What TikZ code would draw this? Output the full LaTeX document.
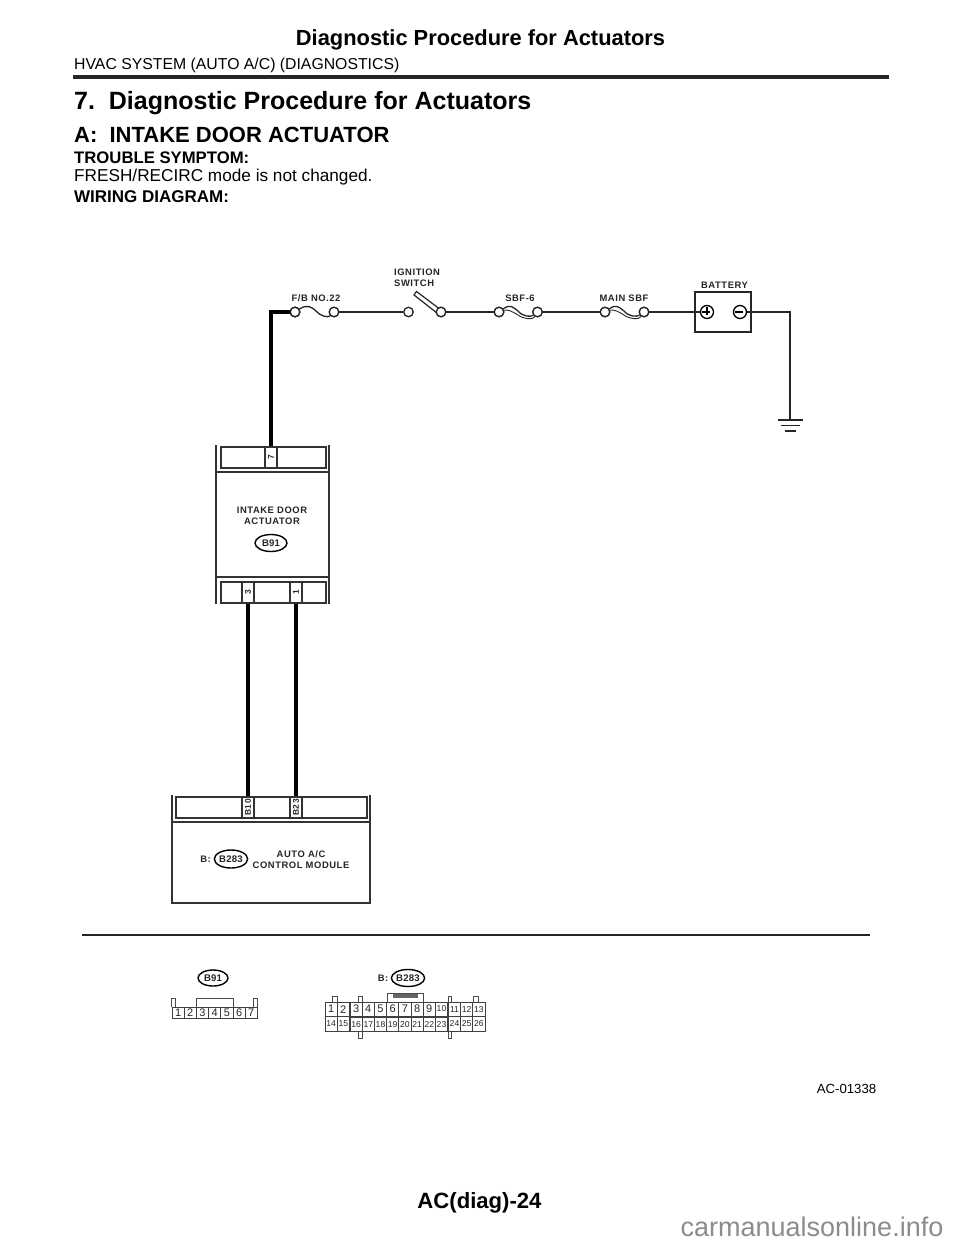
\documentclass[tikz,border=0pt]{standalone}
\usepackage{fontspec}
\setmainfont{Liberation Sans}
\newfontfamily\lab[LetterSpace=6]{Liberation Sans}
\newfontfamily\labtight[LetterSpace=2]{Liberation Sans}
\newcommand{\fs}[1]{\fontsize{#1}{#1}\selectfont}
\tikzset{
 txt/.style={inner sep=0pt,anchor=west,text=black},
 ctxt/.style={inner sep=0pt,anchor=center,text=black},
 lbl/.style={inner sep=0pt,anchor=center,font=\lab\bfseries\fs{9.4},align=center,text=black!85},
 pinlbl/.style={inner sep=0pt,anchor=center,font=\lab\bfseries\fs{8.4},rotate=90,text=black!85},
 wire/.style={line width=1.5pt,black!85},
 fat/.style={line width=4pt,black},
 term/.style={circle,draw=black!85,line width=1.3pt,fill=white,minimum size=9.5pt,inner sep=0pt},
 bline/.style={line width=1.4pt,black!80},
 oval/.style={ellipse,draw=black,line width=1.4pt,fill=white,inner sep=0pt,font=\labtight\bfseries\fs{9.6},text=black!85},
 cell/.style={draw=black!75,line width=0.7pt,inner sep=0pt,anchor=center,font=\fs{11},text=black!85},
 tab/.style={draw=black!70,line width=0.7pt},
 fuseline/.style={line width=1.3pt,black!85},
}
\usetikzlibrary{shapes.geometric}
\begin{document}
\begin{tikzpicture}[x=1pt,y=-1pt]
\useasboundingbox[fill=white] (0,0) rectangle (960,1242);
% Header
\node[ctxt,font=\bfseries\fs{21.85}] (h1) at (480.5,39.5) {Diagnostic Procedure for Actuators};
\node[txt,font=\fs{15.8}] (h2) at (74,65.5) {HVAC SYSTEM (AUTO A/C) (DIAGNOSTICS)};
\coordinate (ra) at (73,77); \coordinate (rb) at (889,77);
\draw[line width=3.6pt,black!85] (ra) -- (rb);
\node[txt,font=\bfseries\fs{25}] (h3) at (74,103) {7.\ \ Diagnostic Procedure for Actuators};
\node[txt,font=\bfseries\fs{22}] (h4) at (74,135) {A:\ \ INTAKE DOOR ACTUATOR};
\node[txt,font=\bfseries\fs{16.7}] (h5) at (74,157.5) {TROUBLE SYMPTOM:};
\node[txt,font=\fs{17.2}] (h6) at (74,177.5) {FRESH/RECIRC mode is not changed.};
\node[txt,font=\bfseries\fs{17}] (h7) at (74,197) {WIRING DIAGRAM:};

% Top circuit
\coordinate (cor) at (271,312);
\node[term] (f1a) at (295,312) {};
\node[term] (f1b) at (334,312) {};
\node[term] (swa) at (408.5,312) {};
\node[term] (swb) at (441,312) {};
\node[term] (f2a) at (499,312) {};
\node[term] (f2b) at (537.5,312) {};
\node[term] (f3a) at (605,312) {};
\node[term] (f3b) at (644,312) {};
\node[draw=black!85,line width=1.5pt,minimum width=56pt,minimum height=40pt,inner sep=0pt] (bat) at (723,312) {};
\node[circle,draw=black,line width=1.3pt,fill=white,minimum size=13pt,inner sep=0pt] (bp) at (707,312) {};
\node[circle,draw=black,line width=1.3pt,fill=white,minimum size=13pt,inner sep=0pt] (bm) at (740,312) {};
\draw[line width=1.3pt,black] (bp.west)++(2.5,0) -- ++(8,0);
\draw[line width=1.3pt,black] (bp.north)++(0,2.5) -- ++(0,8);
\draw[line width=1.3pt,black] (bm.west)++(2.5,0) -- ++(8,0);
% wires
\draw[wire] (f1b) -- (swa);
\draw[wire] (swb) -- (f2a);
\draw[wire] (f2b) -- (f3a);
\draw[wire] (f3b) -- (bp);
\coordinate (gtop) at (790,420);
\draw[wire] (bm) -| (gtop);
\draw[wire] (778,420) -- (803,420);
\draw[wire] (781,425.5) -- (800,425.5);
\draw[wire] (785,431) -- (796,431);
% fuses
\draw[fuseline] (f1a) .. controls (307,304) and (312,307) .. (316,311) .. controls (320,316) and (328,318) .. (f1b);
\draw[fuseline] (f2a) .. controls (510,304) and (513,307) .. (518,311) .. controls (523,317) and (531,317) .. (f2b);
\draw[line width=0.9pt,black!85] (f2a) .. controls (508,309) and (513,312) .. (518,315) .. controls (523,319) and (533,320) .. (f2b);
\draw[fuseline] (f3a) .. controls (616,304) and (619,307) .. (624,311) .. controls (629,317) and (637,317) .. (f3b);
\draw[line width=0.9pt,black!85] (f3a) .. controls (614,309) and (619,312) .. (624,315) .. controls (629,319) and (639,320) .. (f3b);
\node[term] at (f1a) {};\node[term] at (f1b) {};
\node[term] at (f2a) {};\node[term] at (f2b) {};
\node[term] at (f3a) {};\node[term] at (f3b) {};
% switch blade
\draw[line width=1.2pt,black!85,fill=white] (441,310) -- (416.5,291.5) -- (414,295) -- (437,313) -- cycle;
\node[term] at (swb) {};
% labels
\node[lbl] (l1) at (316,298) {F/B NO.22};
\node[lbl,anchor=west] (l2a) at (394,272) {IGNITION};
\node[lbl,anchor=west] (l2b) at (394,283) {SWITCH};
\node[lbl] (l3) at (520,298) {SBF-6};
\node[lbl] (l4) at (624,298.5) {MAIN SBF};
\node[lbl] (l5) at (724.5,285) {BATTERY};

% Actuator
\coordinate (al1) at (216,445); \coordinate (al2) at (216,604);
\coordinate (ar1) at (329,445); \coordinate (ar2) at (329,604);
\draw[bline] (al1) -- (al2);
\draw[bline] (ar1) -- (ar2);
\draw[bline] (216,472) -- (329,472);
\draw[bline] (216,577) -- (329,577);
\draw[bline] (221,447) rectangle (326,468);
\draw[bline] (221,582) rectangle (326,603);
\node[draw=black!80,line width=1.2pt,minimum width=12pt,minimum height=21pt,inner sep=0pt] (p7) at (271,457.5) {};
\node[draw=black!80,line width=1.2pt,minimum width=12pt,minimum height=21pt,inner sep=0pt] (p3) at (248,592.5) {};
\node[draw=black!80,line width=1.2pt,minimum width=12pt,minimum height=21pt,inner sep=0pt] (p1) at (296,592.5) {};
\node[pinlbl] at (p7) {7};
\node[pinlbl] at (p3) {3};
\node[pinlbl] at (p1) {1};
\node[lbl] (a1) at (272,510.5) {INTAKE DOOR};
\node[lbl] (a2) at (272,521.5) {ACTUATOR};
\node[oval,minimum width=32pt,minimum height=17pt] (ob91) at (271,543) {B91};

% Module
\draw[bline] (172,795) -- (172,903) -- (370,903) -- (370,795);
\draw[bline] (172,822) -- (370,822);
\draw[bline] (176,797) rectangle (367,818);
\node[draw=black!80,line width=1.2pt,minimum width=12pt,minimum height=21pt,inner sep=0pt] (b10) at (248,807.5) {};
\node[draw=black!80,line width=1.2pt,minimum width=12pt,minimum height=21pt,inner sep=0pt] (b23) at (296,807.5) {};
\node[pinlbl] at (b10) {B10};
\node[pinlbl] at (b23) {B23};
\node[lbl] (m0) at (205.5,859) {B:};
\node[oval,minimum width=33pt,minimum height=18pt] (ob283) at (231,859) {B283};
\node[lbl] (m1) at (301,854) {AUTO A/C};
\node[lbl] (m2) at (301,865) {CONTROL MODULE};

% Thick wires
\draw[fat] (p7.north) -- (cor) -- (f1a);
\draw[fat] (p3.south) -- (b10.north);
\draw[fat] (p1.south) -- (b23.north);
\node[term] at (f1a) {};

% Separator
\coordinate (sa) at (82,935); \coordinate (sb) at (870,935);
\draw[line width=1.9pt,black!85] (sa) -- (sb);

% B91 connector
\node[oval,minimum width=30pt,minimum height=16pt] (cb91) at (213,978) {B91};
\draw[tab] (171.5,1007) -- (171.5,998) -- (175.5,998) -- (175.5,1007);
\draw[tab] (253,1007) -- (253,998) -- (257.5,998) -- (257.5,1007);
\draw[tab] (196,1007) -- (196,998) -- (233,998) -- (233,1007);
\foreach \n [count=\i from 0] in {1,...,7}{
  \node[cell,minimum width=12.2pt,minimum height=11pt] (a\n) at (178.1+12.2*\i,1012.5) {\n};
}
% B283 connector
\node[lbl] (c0) at (383,978) {B:};
\node[oval,minimum width=31pt,minimum height=17pt] (cb283) at (408,978) {B283};
\draw[tab] (332.5,1002) -- (332.5,996) -- (337,996) -- (337,1002);
\draw[tab] (358.5,1002) -- (358.5,996) -- (362,996) -- (362,1002);
\draw[tab] (448.5,1002) -- (448.5,996) -- (451.5,996) -- (451.5,1002);
\draw[tab] (473.5,1002) -- (473.5,996) -- (478,996) -- (478,1002);
\draw[tab] (387,1002) -- (387,993) -- (423,993) -- (423,1002);
\fill[black!60] (393,993.5) rectangle (418,997.5);
\draw[tab] (358.5,1031) -- (358.5,1038) -- (362,1038) -- (362,1031);
\draw[tab] (448.5,1031) -- (448.5,1038) -- (451.5,1038) -- (451.5,1031);
\foreach \n [count=\i from 0] in {1,2}{
  \node[cell,minimum width=12.2pt,minimum height=14.5pt] (t\n) at (331.1+12.2*\i,1009.2) {\n};
}
\foreach \n [count=\i from 0] in {3,...,9}{
  \node[cell,minimum width=12.2pt,minimum height=14pt] (t\n) at (356.1+12.2*\i,1009) {\n};
}
\node[cell,minimum width=12.2pt,minimum height=14pt,font=\fs{8.6}] (t10) at (441.5,1009) {10};
\foreach \n [count=\i from 0] in {11,12,13}{
  \node[cell,minimum width=12.2pt,minimum height=14.5pt,font=\fs{8.6}] (t\n) at (454.5+12.2*\i,1009.2) {\n};
}
\foreach \n [count=\i from 0] in {14,15}{
  \node[cell,minimum width=12.2pt,minimum height=14.5pt,font=\fs{8.6}] (u\n) at (331.1+12.2*\i,1023.8) {\n};
}
\foreach \n [count=\i from 0] in {16,...,23}{
  \node[cell,minimum width=12.2pt,minimum height=13.5pt,font=\fs{8.6}] (u\n) at (356.1+12.2*\i,1024.3) {\n};
}
\foreach \n [count=\i from 0] in {24,25,26}{
  \node[cell,minimum width=12.2pt,minimum height=14.5pt,font=\fs{8.6}] (u\n) at (454.5+12.2*\i,1023.8) {\n};
}

\node[ctxt,font=\fs{13.2}] (code) at (846.5,1089) {AC-01338};
\node[ctxt,font=\bfseries\fs{22.1}] (foot) at (479.5,1202.5) {AC(diag)-24};
\node[ctxt,font=\fs{27},text=black!45] (wm) at (812,1227) {carmanualsonline.info};
\end{tikzpicture}
\end{document}
